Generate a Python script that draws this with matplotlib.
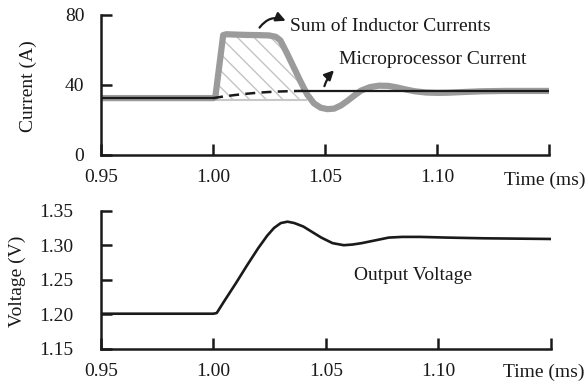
import matplotlib
matplotlib.use("Agg")
import matplotlib.pyplot as plt

plt.rcParams['font.family'] = ['Liberation Serif', 'DejaVu Serif']
plt.rcParams['font.size'] = 14
plt.rcParams['hatch.linewidth'] = 1.0

# Sum of inductor currents (A) vs time (ms)
t_ind = [0.950, 1.000, 1.001, 1.0045, 1.006, 1.010, 1.015, 1.020, 1.025, 1.028,
         1.030, 1.033, 1.036, 1.039, 1.042, 1.045, 1.048, 1.051, 1.054, 1.057,
         1.060, 1.063, 1.066, 1.070, 1.074, 1.078, 1.082, 1.086, 1.090, 1.095,
         1.100, 1.105, 1.110, 1.120, 1.130, 1.150]
i_ind = [32.5, 32.5, 33.0, 68.5, 69.0, 68.8, 68.6, 68.5, 68.3, 67.5,
         65.5, 58.0, 50.0, 42.0, 34.5, 29.5, 27.0, 26.2, 26.5, 28.3,
         31.0, 34.0, 36.8, 38.8, 39.6, 39.5, 38.6, 37.4, 36.4, 35.7,
         35.5, 35.6, 35.9, 36.4, 36.6, 36.6]

# Microprocessor (load) current
t_cpu_a = [0.950, 1.000]
i_cpu_a = [32.5, 32.5]
t_cpu_b = [1.000, 1.005, 1.010, 1.015, 1.020, 1.025, 1.030, 1.035, 1.040]
i_cpu_b = [32.5, 33.5, 34.3, 35.0, 35.6, 36.0, 36.3, 36.5, 36.6]
t_cpu_c = [1.040, 1.150]
i_cpu_c = [36.6, 36.6]

# hatched charge region, base level
hatch_base = 31.4
t_hatch_end = 1.0415

# Output voltage (V)
t_v = [0.950, 1.000, 1.0015, 1.005, 1.010, 1.015, 1.020, 1.024, 1.027, 1.030,
       1.033, 1.036, 1.040, 1.044, 1.048, 1.053, 1.058, 1.062, 1.066, 1.072,
       1.078, 1.084, 1.092, 1.104, 1.120, 1.150]
v_out = [1.201, 1.201, 1.202, 1.220, 1.245, 1.271, 1.296, 1.314, 1.325, 1.332,
         1.334, 1.332, 1.327, 1.319, 1.311, 1.303, 1.300, 1.301, 1.303, 1.307,
         1.311, 1.312, 1.312, 1.311, 1.310, 1.309]

x_ticks = [0.95, 1.00, 1.05, 1.10, 1.15]
x_labels = ['0.95', '1.00', '1.05', '1.10', '']

fig = plt.figure(figsize=(5.87, 3.87), dpi=100)
ax1 = fig.add_axes([0.172, 0.5995, 0.764, 0.3618])
ax2 = fig.add_axes([0.172, 0.0982, 0.766, 0.3576])

txt = '#1a1a1a'
gray = '#9b9b9b'

for ax in (ax1, ax2):
    for s in ('top', 'right'):
        ax.spines[s].set_visible(False)
    for s in ('left', 'bottom'):
        ax.spines[s].set_linewidth(1.8)
        ax.spines[s].set_color(txt)
    ax.set_xlim(0.95, 1.15)
    ax.set_xticks(x_ticks)
    ax.set_xticklabels(x_labels)
    ax.tick_params(direction='in', length=8, width=1.8, color=txt, labelcolor=txt)
    ax.tick_params(axis='x', pad=10)
    ax.set_xlabel('Time (ms)', color=txt)
    ax.xaxis.label.set_va('center')
    ax.yaxis.label.set_va('center')

# top panel
in_hatch = [t <= t_hatch_end and t >= 1.0 for t in t_ind]
ax1.fill_between(t_ind, hatch_base, i_ind, where=in_hatch, interpolate=True,
                 facecolor='none', edgecolor='#c4c4c4', hatch='\\\\', linewidth=0)
ax1.plot([1.0, t_hatch_end], [hatch_base, hatch_base], color='#c8c8c8', lw=1.5)
ax1.plot(t_ind, i_ind, color=gray, lw=4.5, solid_joinstyle='round')
ax1.plot(t_cpu_a, i_cpu_a, color=txt, lw=1.6)
ax1.plot(t_cpu_b, i_cpu_b, color=txt, lw=1.8, ls=(0, (4, 2.5)))
ax1.plot(t_cpu_c, i_cpu_c, color=txt, lw=1.6)
ax1.set_ylim(0, 80)
ax1.set_yticks([0, 40, 80])
ax1.tick_params(axis='y', pad=12)
ax1.set_ylabel('Current (A)', color=txt)
ax1.yaxis.set_label_coords(-0.163, 0.49)
ax1.xaxis.set_label_coords(0.99, -0.179)

ax1.text(1.0345, 73.4, 'Sum of Inductor Currents', ha='left', va='center', color=txt)
ax1.annotate('', xy=(1.0335, 76.0), xytext=(1.0200, 71.5),
             arrowprops=dict(arrowstyle='-|>', color=txt, lw=1.6,
                             connectionstyle='arc3,rad=-0.45', mutation_scale=14))
ax1.text(1.0560, 54.3, 'Microprocessor Current', ha='left', va='center', color=txt)
ax1.annotate('', xy=(1.0548, 49.5), xytext=(1.0493, 37.8),
             arrowprops=dict(arrowstyle='-|>', color=txt, lw=1.6,
                             connectionstyle='arc3,rad=-0.15', mutation_scale=14))

# bottom panel
ax2.plot(t_v, v_out, color=txt, lw=1.9)
ax2.set_ylim(1.15, 1.35)
ax2.set_yticks([1.15, 1.20, 1.25, 1.30, 1.35])
ax2.set_yticklabels(['1.15', '1.20', '1.25', '1.30', '1.35'])
ax2.tick_params(axis='y', pad=20)
ax2.set_ylabel('Voltage (V)', color=txt)
ax2.yaxis.set_label_coords(-0.187, 0.49)
ax2.xaxis.set_label_coords(0.985, -0.171)
ax2.text(1.0887, 1.2555, 'Output Voltage', ha='center', va='center', color=txt)

fig.savefig('out.png', dpi=100)
